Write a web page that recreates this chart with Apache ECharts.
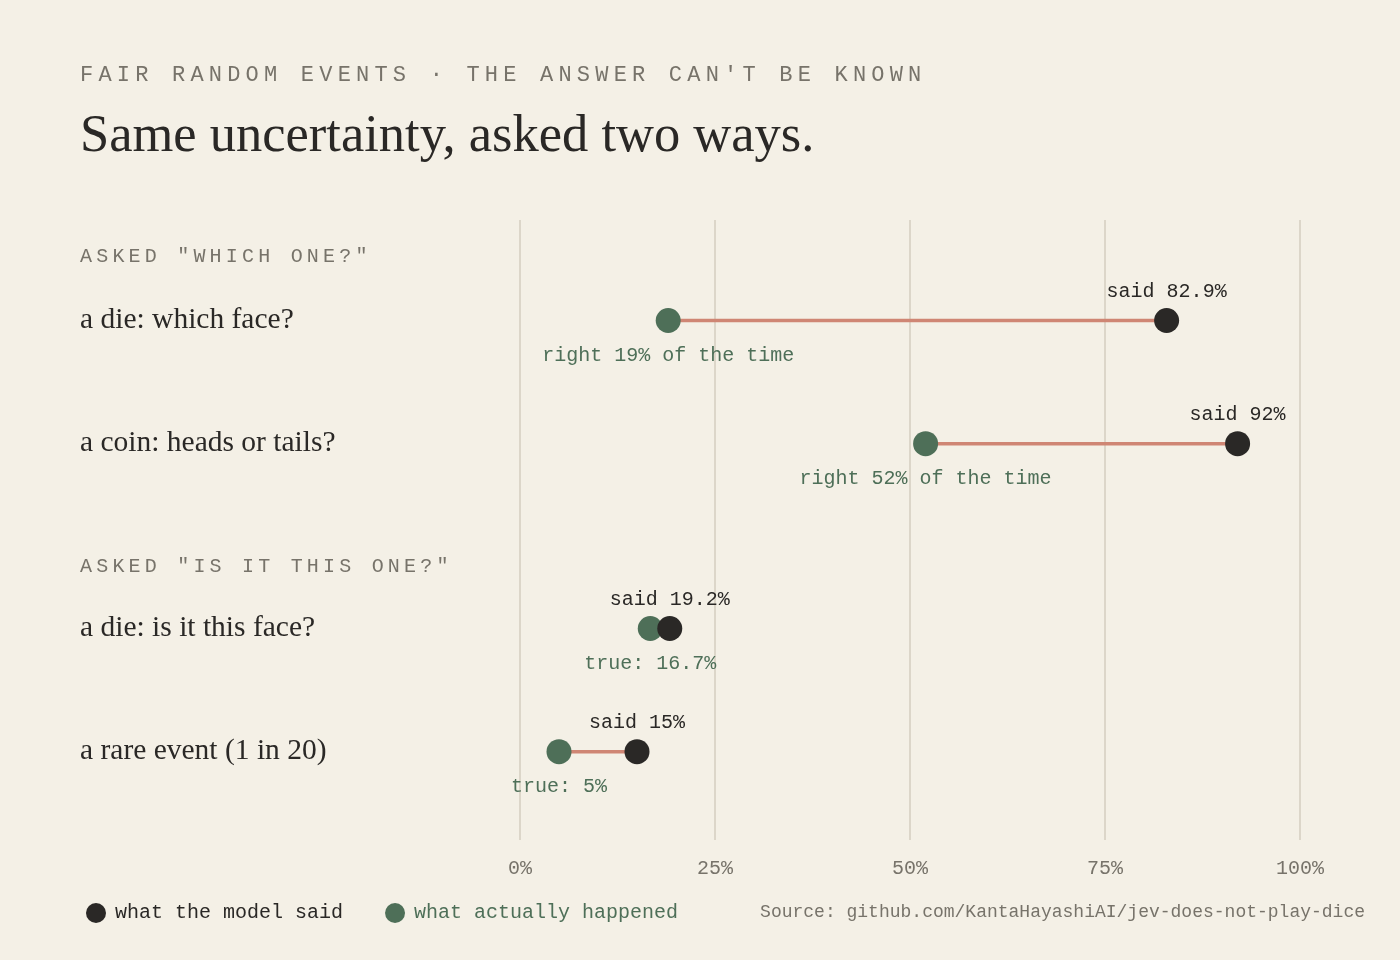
<!DOCTYPE html>
<html>
<head>
<meta charset="utf-8">
<script src="https://cdn.jsdelivr.net/npm/echarts@6/dist/echarts.min.js"></script>
<style>
  html, body { margin: 0; padding: 0; background: #f4f0e6; }
  #wrap { position: relative; width: 1400px; height: 960px; }
  #chart { position: absolute; left: 0; top: 0; width: 1400px; height: 960px; }
  .mono { font-family: "Liberation Mono", "DejaVu Sans Mono", monospace; }
  .kicker { position: absolute; left: 80px; top: 64px; font-size: 22px; line-height: 24px; letter-spacing: 5.2px; color: #77736a; }
  .title { position: absolute; left: 80px; top: 103px; font-family: "Liberation Serif", serif; font-size: 52.5px; line-height: 60px; color: #2a2826; }
  .group { position: absolute; left: 80px; font-size: 20px; line-height: 24px; letter-spacing: 4.2px; color: #77736a; }
</style>
</head>
<body>
<div id="wrap">
  <div id="chart"></div>
  <div class="kicker mono">FAIR RANDOM EVENTS · THE ANSWER CAN'T BE KNOWN</div>
  <div class="title">Same uncertainty, asked two ways.</div>
  <div class="group mono" id="g0" style="top:245px">ASKED "WHICH ONE?"</div>
  <div class="group mono" id="g1" style="top:555px">ASKED "IS IT THIS ONE?"</div>
</div>
<script>
// 数据
var groupNames = ['ASKED "WHICH ONE?"', 'ASKED "IS IT THIS ONE?"'];
var rowNames = [
  ['a die: which face?', 'a coin: heads or tails?'],
  ['a die: is it this face?', 'a rare event (1 in 20)']
];
var saidVals = [82.9, 92, 19.2, 15];
var actualVals = [19, 52, 16.7, 5];
var saidLabels = ['said 82.9%', 'said 92%', 'said 19.2%', 'said 15%'];
var actualLabels = ['right 19% of the time', 'right 52% of the time', 'true: 16.7%', 'true: 5%'];
var xTicks = [0, 25, 50, 75, 100];

var MONO = '"Liberation Mono", "DejaVu Sans Mono", monospace';
var SERIF = '"Liberation Serif", serif';
var INK = '#2a2826', GREEN = '#4e6f58', LINE = '#cf8674', MUTED = '#77736a';

// 行的位置：组标题占一格，行之间空一格
var slots = [], rowSlot = [];
$each = function(arr, fn){ for (var i = 0; i < arr.length; i++) fn(i, arr[i]); };
$each(rowNames, function(g, rows){
  slots.push('');               // 组标题（用html画）
  $each(rows, function(r, name){
    if (r > 0) slots.push('');
    rowSlot.push(slots.length);
    slots.push(name);
  });
  if (g < rowNames.length - 1) slots.push('');
});

var saidData = [], actualData = [], linkData = [];
$each(saidVals, function(i, v){
  saidData.push({ value: [v, rowSlot[i]], label: { formatter: saidLabels[i] } });
  actualData.push({ value: [actualVals[i], rowSlot[i]], label: { formatter: actualLabels[i] } });
  linkData.push([v, actualVals[i], rowSlot[i]]);
});

var SLOT = 61.6;
var chart = echarts.init(document.getElementById('chart'));
var option = {
  backgroundColor: '#f4f0e6',
  animation: false,
  grid: [
    { left: 520, right: 100, top: 320.5 - SLOT * 1.5, height: SLOT * slots.length },
    { left: 520, right: 100, top: 220, bottom: 120 }
  ],
  xAxis: [
    { gridIndex: 0, type: 'value', min: 0, max: 100, show: false },
    {
      gridIndex: 1, type: 'value', min: 0, max: 100, interval: 25,
      axisLine: { show: false }, axisTick: { show: false },
      splitLine: { show: true, lineStyle: { color: '#dcd6c9', width: 2 } },
      axisLabel: {
        margin: 19, color: MUTED, fontFamily: MONO, fontSize: 20,
        formatter: function(v){ return xTicks.indexOf(v) >= 0 ? v + '%' : ''; }
      }
    }
  ],
  yAxis: [
    {
      gridIndex: 0, type: 'category', inverse: true, data: slots,
      axisLine: { show: false }, axisTick: { show: false }, splitLine: { show: false },
      axisLabel: { align: 'left', margin: 440, color: INK, fontFamily: SERIF, fontSize: 29.5, interval: 0 }
    },
    { gridIndex: 1, type: 'value', show: false }
  ],
  legend: {
    left: 81, top: 898, itemWidth: 20, itemHeight: 20, itemGap: 42,
    icon: 'circle',
    textStyle: { fontFamily: MONO, fontSize: 20, padding: [0, 0, 0, 4] },
    data: [
      { name: 'what the model said', textStyle: { color: INK } },
      { name: 'what actually happened', textStyle: { color: GREEN } }
    ]
  },
  graphic: [{
    type: 'text', right: 35, top: 903,
    style: { text: 'Source: github.com/KantaHayashiAI/jev-does-not-play-dice', fill: MUTED, font: '18px ' + MONO }
  }],
  series: [
    {
      type: 'custom', xAxisIndex: 0, yAxisIndex: 0, data: linkData, silent: true,
      renderItem: function(params, api){
        var a = api.coord([api.value(0), api.value(2)]);
        var b = api.coord([api.value(1), api.value(2)]);
        return { type: 'line', shape: { x1: a[0], y1: a[1], x2: b[0], y2: b[1] },
                 style: { stroke: LINE, lineWidth: 3.5 } };
      }
    },
    {
      name: 'what actually happened', type: 'scatter', xAxisIndex: 0, yAxisIndex: 0,
      symbolSize: 25, itemStyle: { color: GREEN, opacity: 1 }, data: actualData,
      label: { show: true, position: 'bottom', distance: 13, color: GREEN, fontFamily: MONO, fontSize: 20 }
    },
    {
      name: 'what the model said', type: 'scatter', xAxisIndex: 0, yAxisIndex: 0,
      symbolSize: 25, itemStyle: { color: INK, opacity: 1 }, data: saidData,
      label: { show: true, position: 'top', distance: 6, color: INK, fontFamily: MONO, fontSize: 20 }
    }
  ]
};
chart.setOption(option);
</script>
</body>
</html>
